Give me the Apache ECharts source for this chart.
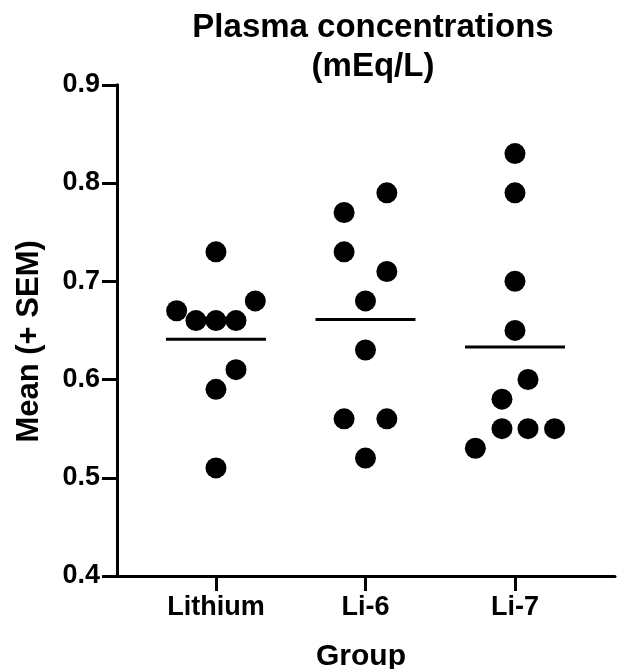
<!DOCTYPE html>
<html>
<head>
<meta charset="utf-8">
<script src="https://cdn.jsdelivr.net/npm/echarts@6/dist/echarts.min.js"></script>
<style>
html,body{margin:0;padding:0;background:#fff;}
#chart{width:617px;height:669px;}
</style>
</head>
<body>
<div id="chart"></div>
<script>
// ---- data ----
const categories = ['Lithium', 'Li-6', 'Li-7'];
const lithiumValues = [0.73, 0.67, 0.66, 0.66, 0.66, 0.68, 0.61, 0.59, 0.51];
const lithiumJitter = [0, -0.263, -0.134, 0, 0.134, 0.263, 0.134, 0, 0];
const li6Values = [0.79, 0.77, 0.73, 0.71, 0.68, 0.63, 0.56, 0.56, 0.52];
const li6Jitter = [0.143, -0.143, -0.143, 0.143, 0, 0, -0.143, 0.143, 0];
const li7Values = [0.83, 0.79, 0.70, 0.65, 0.60, 0.58, 0.55, 0.55, 0.55, 0.53];
const li7Jitter = [0, 0, 0, 0, 0.087, -0.087, -0.087, 0.087, 0.265, -0.265];
const groupMeans = [0.641, 0.661, 0.633];
const yTicks = [0.4, 0.5, 0.6, 0.7, 0.8, 0.9];

// ---- build series data ----
const groups = [
  [lithiumValues, lithiumJitter],
  [li6Values, li6Jitter],
  [li7Values, li7Jitter]
];
const points = [];
groups.forEach(function (g, gi) {
  g[0].forEach(function (v, i) { points.push([gi + g[1][i], v]); });
});
const meanData = groupMeans.map(function (m, i) { return [i, m]; });

const FONT = '"Liberation Sans", Arial, Helvetica, sans-serif';
const chart = echarts.init(document.getElementById('chart'), null, {renderer: 'canvas'});
chart.setOption({
  animation: false,
  backgroundColor: '#fff',
  title: {
    text: 'Plasma concentrations\n(mEq/L)',
    left: 368,
    top: 3,
    textAlign: 'center',
    textStyle: {fontFamily: FONT, fontWeight: 'bold', fontSize: 33, lineHeight: 39, color: '#000'}
  },
  grid: {left: 117, right: 2, top: 84.8, bottom: 93, containLabel: false, outerBoundsMode: 'none'},
  xAxis: {
    type: 'value',
    min: -0.662,
    max: 2.669,
    name: 'Group',
    nameLocation: 'middle',
    nameGap: 66,
    nameTextStyle: {fontFamily: FONT, fontWeight: 'bold', fontSize: 30, color: '#000', padding: [0, 10, 0, 0]},
    splitLine: {show: false},
    axisLine: {show: true, onZero: false, lineStyle: {color: '#000', width: 3}},
    axisTick: {show: true, length: 15, lineStyle: {color: '#000', width: 3}, customValues: [0, 1, 2]},
    axisLabel: {
      customValues: [0, 1, 2],
      margin: 18,
      fontFamily: FONT, fontWeight: 'bold', fontSize: 27, color: '#000',
      formatter: function (v) { return categories[Math.round(v)]; }
    }
  },
  yAxis: {
    type: 'value',
    min: yTicks[0],
    max: yTicks[yTicks.length - 1],
    interval: 0.1,
    name: 'Mean (+ SEM)',
    nameLocation: 'middle',
    nameGap: 72,
    nameTextStyle: {fontFamily: FONT, fontWeight: 'bold', fontSize: 31, color: '#000', padding: [0, 22, 0, 0]},
    splitLine: {show: false},
    axisLine: {show: true, onZero: false, lineStyle: {color: '#000', width: 3}},
    axisTick: {show: true, length: 15, lineStyle: {color: '#000', width: 3}},
    axisLabel: {
      margin: 17,
      fontFamily: FONT, fontWeight: 'bold', fontSize: 27, color: '#000',
      formatter: function (v) { return v.toFixed(1); }
    }
  },
  series: [
    {
      type: 'scatter',
      data: points,
      symbol: 'circle',
      symbolSize: 21,
      itemStyle: {color: '#000', opacity: 1},
      z: 3
    },
    {
      type: 'custom',
      data: meanData,
      z: 2,
      renderItem: function (params, api) {
        const c = api.coord([api.value(0), api.value(1)]);
        return {
          type: 'line',
          shape: {x1: c[0] - 50, y1: c[1], x2: c[0] + 50, y2: c[1]},
          style: {stroke: '#000', lineWidth: 3}
        };
      }
    }
  ]
});
</script>
</body>
</html>
